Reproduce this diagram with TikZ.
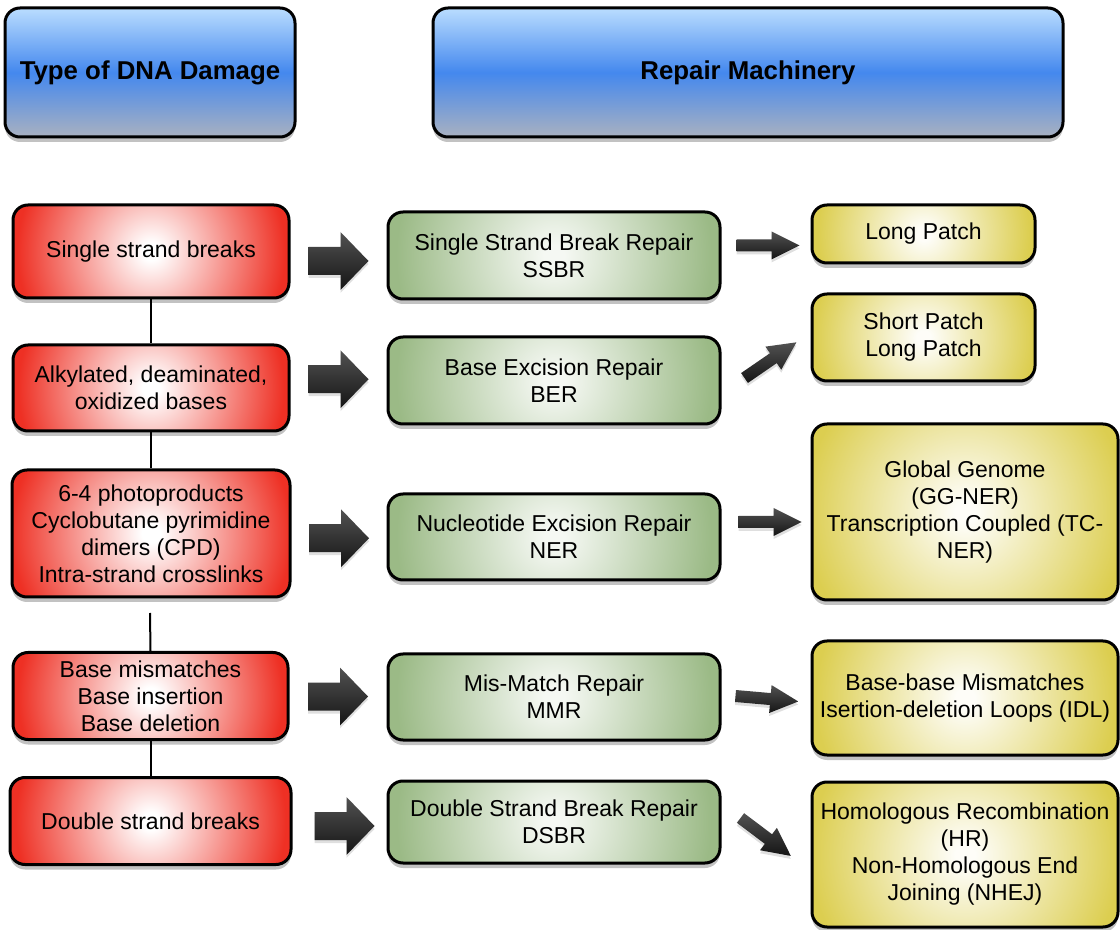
\documentclass[tikz,border=0pt]{standalone}
\usepackage{fontspec}
\setmainfont{Liberation Sans}
\usetikzlibrary{shadows,calc}

\definecolor{dnared}{HTML}{EE3024}
\definecolor{repgreen}{HTML}{9BBA86}
\definecolor{subyellow}{HTML}{DCCE50}
\definecolor{headtop}{HTML}{BADDFF}
\definecolor{headmid}{HTML}{4488EE}
\definecolor{headbot}{HTML}{A9B1C0}

% the middle 50bp of a shading is fitted to the path
\pgfdeclareradialshading{redglow}{\pgfpointorigin}{color(0bp)=(white); color(1.5bp)=(white); color(23bp)=(dnared); color(50bp)=(dnared)}
\pgfdeclareradialshading{greenglow}{\pgfpointorigin}{color(0bp)=(white!90!repgreen); color(1.5bp)=(white!90!repgreen); color(23bp)=(repgreen); color(50bp)=(repgreen)}
\pgfdeclareradialshading{yellowglow}{\pgfpointorigin}{color(0bp)=(white!96!subyellow); color(1.5bp)=(white!96!subyellow); color(23bp)=(subyellow); color(50bp)=(subyellow)}

\tikzset{
  glow/.style={path picture={\shade[shading=#1] let \p1=($(path picture bounding box.north east)-(path picture bounding box.center)$), \n1={veclen(\x1,\y1)} in (path picture bounding box.center) circle (\n1);}},
  box/.style={draw=black, line width=1.5pt, rounded corners=7.5pt, align=center, inner sep=0pt,
    font=\fontsize{11.5}{13.5}\selectfont,
    drop shadow={shadow xshift=0pt, shadow yshift=-2.5pt, opacity=.4, fill=black!60}},
  head/.style={box, top color=headtop, bottom color=headbot, middle color=headmid,
    font=\fontsize{12.9}{15}\selectfont\bfseries},
  dmg/.style={box, glow=redglow},
  rep/.style={box, minimum width=166pt, glow=greenglow},
  sub/.style={box, glow=yellowglow},
  link/.style={draw=black, line width=1pt},
  arrowshade/.style={top color=black!68, bottom color=black!92,
    drop shadow={shadow xshift=0pt, shadow yshift=-1.5pt, opacity=.25, fill=black!50}},
  bigarrow/.pic={\shade[arrowshade] (0,-14) -- (32,-14) -- (32,-29) -- (60,0) -- (32,29) -- (32,14) -- (0,14) -- cycle;},
  smallarrow/.pic={\shade[arrowshade] (0,-6) -- (35,-6) -- (35,-14) -- (63,0) -- (35,14) -- (35,6) -- (0,6) -- cycle;}
}

\begin{document}
\begin{tikzpicture}[x=0.5pt, y=-0.5pt]
\useasboundingbox (0,0) rectangle (1120,930);

% headers
\node[head, minimum width=145pt, minimum height=64.5pt] (dmghead) at (150,72.5) {Type of DNA Damage};
\node[head, minimum width=315pt, minimum height=64.5pt] (rephead) at (748,72.5) {Repair Machinery};

% types of damage
\node[dmg, minimum width=138pt, minimum height=46.5pt] (r1) at (151,251.5) {Single strand breaks};
\node[dmg, minimum width=138pt, minimum height=43pt] (r2) at (151,388) {Alkylated, deaminated,\\oxidized bases};
\node[dmg, minimum width=139pt, minimum height=63.5pt] (r3) at (151,533.5) {6-4 photoproducts\\Cyclobutane pyrimidine\\dimers (CPD)\\Intra-strand crosslinks};
\node[dmg, minimum width=137.5pt, minimum height=43.5pt] (r4) at (150.5,696) {Base mismatches\\Base insertion\\Base deletion};
\node[dmg, minimum width=140.5pt, minimum height=43.5pt] (r5) at (150.5,821) {Double strand breaks};

% repair pathways
\node[rep, minimum height=43.5pt] (g1) at (554,255.5) {Single Strand Break Repair\\SSBR};
\node[rep, minimum height=43.5pt] (g2) at (554,380.5) {Base Excision Repair\\BER};
\node[rep, minimum height=43pt] (g3) at (554,537) {Nucleotide Excision Repair\\NER};
\node[rep, minimum height=43pt] (g4) at (554,697) {Mis-Match Repair\\MMR};
\node[rep, minimum height=41pt] (g5) at (554,822) {Double Strand Break Repair\\DSBR};

% sub-pathways
\node[sub, minimum width=111.5pt, minimum height=29pt] (y1) at (923.5,234) {Long Patch};
\node[sub, minimum width=111.5pt, minimum height=43.5pt] (y2) at (923.5,337.5) {Short Patch\\Long Patch};
\node[sub, minimum width=153pt, minimum height=88pt] (y3) at (965,512) {Global Genome\\(GG-NER)\\Transcription Coupled (TC-\\NER)};
\node[sub, minimum width=153pt, minimum height=57pt] (y4) at (965,698) {Base-base Mismatches\\Isertion-deletion Loops (IDL)};
\node[sub, minimum width=153pt, minimum height=72.5pt] (y5) at (965,854.5) {Homologous Recombination\\(HR)\\Non-Homologous End\\Joining (NHEJ)};

% vertical links
\coordinate (r4top) at (150,613);
\draw[link] (r1.south) -- (r2.north);
\draw[link] (r2.south) -- (r3.north);
\draw[link] (r4top) -- (r4.north);
\draw[link] (r4.south) -- (r5.north);

% block arrows
\foreach \a/\b/\dx/\dy in {r1/g1/0/7.5, r2/g2/0/-5, r3/g3/0/3, r4/g4/0/0, r5/g5/5/4.5}
  \pic at ($(\a.east)!0.5!(\b.west)+(-30+\dx,\dy)$) {bigarrow};
\foreach \a/\dx/\dy/\ang in {g1/15/-10/0, g2/23/-2.5/34.5, g3/17/-15/0, g4/14/-1/-5, g5/19/-4/-37}
  \pic[rotate=\ang] at ($(\a.east)+(\dx,\dy)$) {smallarrow};

\end{tikzpicture}
\end{document}
